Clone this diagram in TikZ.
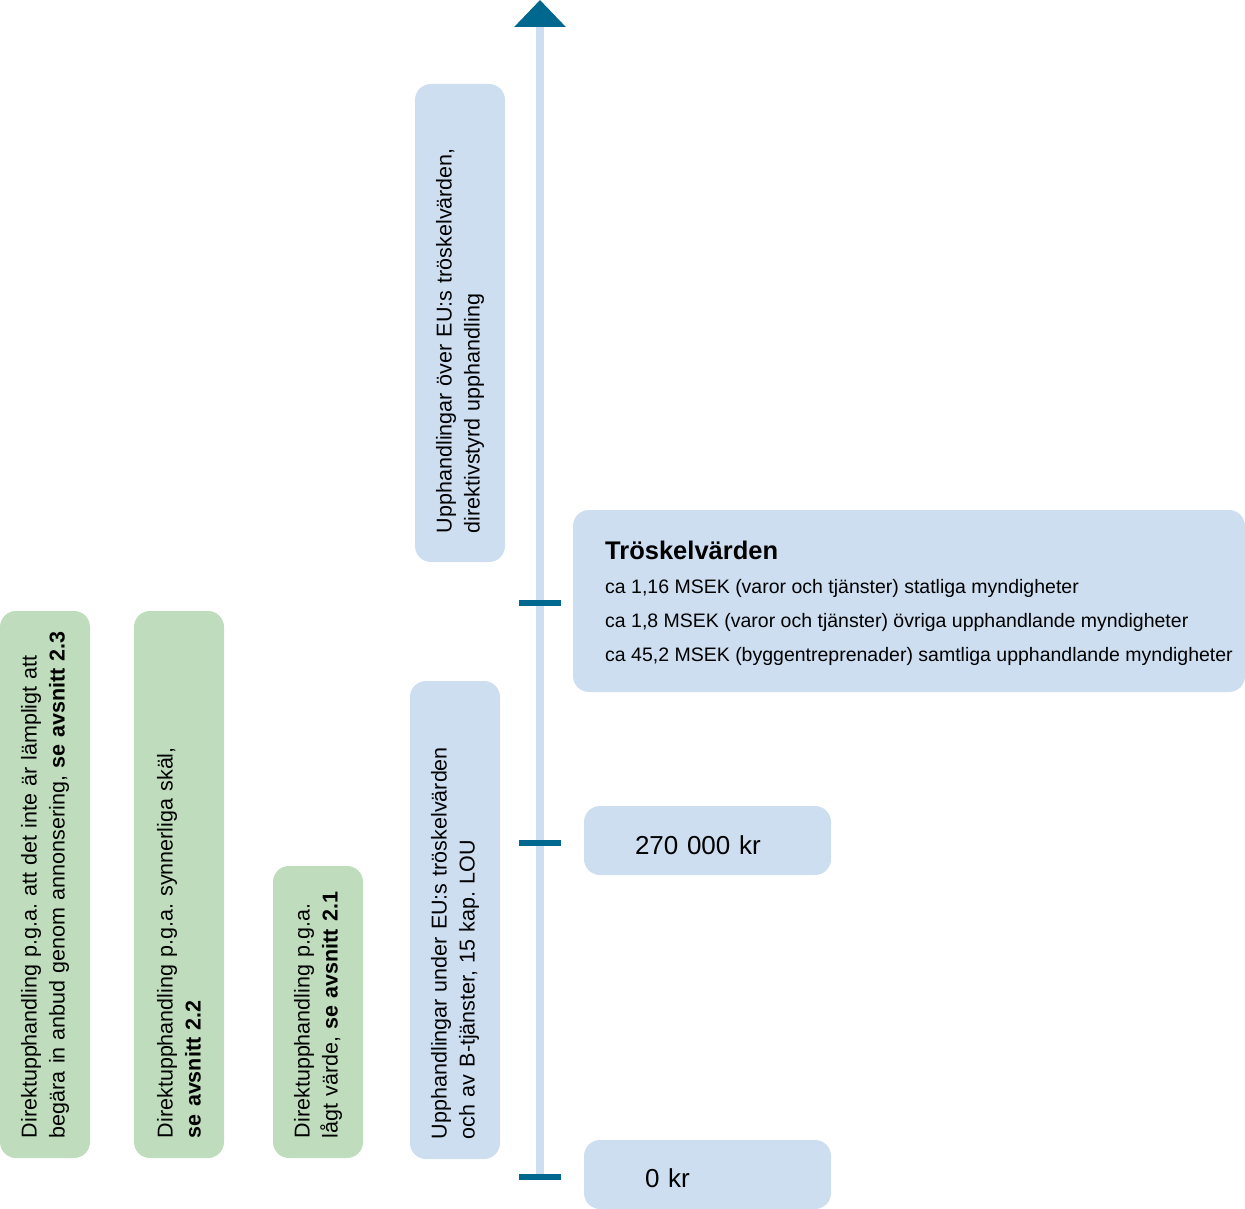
\documentclass[tikz,border=0pt]{standalone}
\usepackage{fontspec}
\setmainfont{Liberation Sans}
\setsansfont{Liberation Sans}
\frenchspacing
\usetikzlibrary{arrows.meta}
\definecolor{cblue}{HTML}{CDDEF0}
\definecolor{cgreen}{HTML}{BFDDBC}
\definecolor{cteal}{HTML}{00688F}
\newcommand{\vfont}{\fontsize{21.5}{28}\selectfont}
\tikzset{
  every picture/.style={font=\sffamily},
  vbox/.style={fill=#1, rounded corners=16pt, rotate=90, align=left, inner xsep=20pt, inner ysep=0pt, minimum height=90pt, font=\vfont},
  vbox/.default=cblue,
  valbox/.style={fill=cblue, rounded corners=16pt, minimum width=247pt, minimum height=69pt, align=left, text height=28pt, text depth=0pt, font=\fontsize{26}{30}\selectfont},
  axis/.style={draw=cblue, line width=8pt, -{Triangle[width=50pt, length=27pt, color=cteal]}},
  tick/.style={draw=cteal, line width=6pt},
}

\begin{document}
\begin{tikzpicture}[x=1pt, y=-1pt]
  \useasboundingbox (0,0) rectangle (1245,1209);
  \coordinate (axbot) at (540,1177);
  \coordinate (axtop) at (540,0);
  \draw[axis] (axbot) -- (axtop);
  \foreach \y/\name in {603/tk1, 843/tk2, 1177/tk0}
    \draw[tick] (519,\y) coordinate (\name) -- (561,\y);

  \node[vbox=cgreen, minimum width=547pt, text width=507pt] (g23) at (45,884.5) {Direktupphandling p.g.a. att det inte är lämpligt att\\begära in anbud genom annonsering, \textbf{se avsnitt 2.3}};
  \node[vbox=cgreen, minimum width=547pt, text width=507pt] (g22) at (179,884.5) {Direktupphandling p.g.a. synnerliga skäl,\\\textbf{se avsnitt 2.2}};
  \node[vbox=cgreen, minimum width=292pt, text width=252pt] (g21) at (318,1012) {Direktupphandling p.g.a.\\lågt värde, \textbf{se avsnitt 2.1}};
  \node[vbox, minimum width=478pt, text width=438pt] (under) at (455,920) {Upphandlingar under EU:s tröskelvärden\\och av B-tjänster, 15 kap. LOU};
  \node[vbox, minimum width=478pt, text width=420pt, inner xsep=29pt] (over) at (460,323) {Upphandlingar över EU:s tröskelvärden,\\direktivstyrd upphandling};

  \node[fill=cblue, rounded corners=16pt, minimum width=672pt, minimum height=182pt] (tbox) at (909,601) {};
  \node[anchor=north west, align=left, inner sep=0pt, font=\fontsize{19.5}{34}\selectfont] (tlist) at (605,541) {{\fontsize{25.5}{34}\selectfont\bfseries Tröskelvärden}\\ca 1,16 MSEK (varor och tjänster) statliga myndigheter\\ca 1,8 MSEK (varor och tjänster) övriga upphandlande myndigheter\\ca 45,2 MSEK (byggentreprenader) samtliga upphandlande myndigheter};

  \node[valbox, text width=145pt, inner xsep=51pt] (v270) at (707.5,840.5) {270 000 kr};
  \node[valbox, text width=125pt, inner xsep=61pt, text height=26pt] (v0) at (707.5,1174.5) {0 kr};
\end{tikzpicture}
\end{document}
